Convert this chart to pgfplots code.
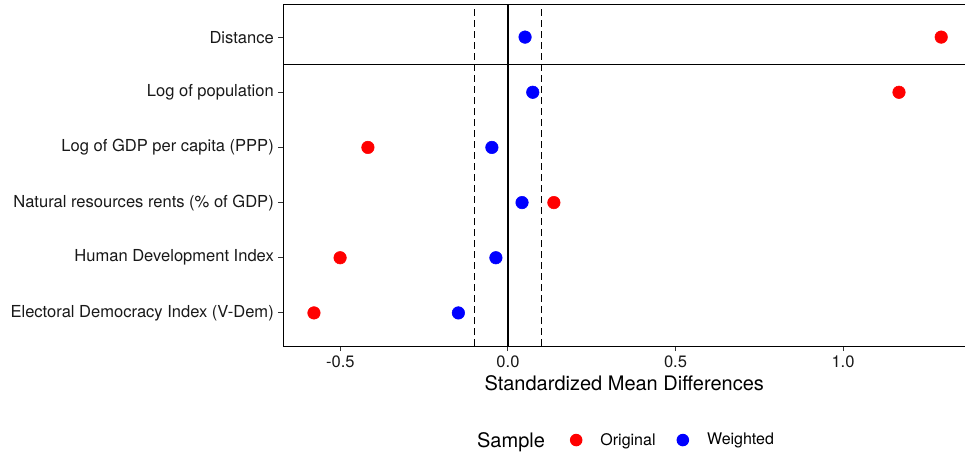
\documentclass[border=0pt]{standalone}
\usepackage{fontspec}
\setmainfont{TeX Gyre Heros}
\usepackage{pgfplots}
\usepackage{pgfplotstable}
\pgfplotsset{compat=1.18}

% Standardized mean differences per covariate (1 = bottom row)
\pgfplotstableread{
pos original weighted
1 -0.579 -0.148
2 -0.501 -0.036
3  0.137  0.042
4 -0.418 -0.048
5  1.167  0.074
6  1.293  0.051
}\smd

\begin{document}
\begin{tikzpicture}
\useasboundingbox (-212.6pt,-82.5pt) rectangle (511.125pt,259.5pt);
\begin{axis}[
  at={(0,0)}, anchor=south west,
  scale only axis,
  width=511.125pt, height=256.5pt,
  xmin=-0.670, xmax=1.364,
  ymin=0.4, ymax=6.6,
  axis lines*=left,
  axis line style={-, line width=0.75pt, black},
  tick align=outside,
  major tick length=3.75pt,
  tick style={line width=0.75pt, black!80},
  xtick={-0.5,0,0.5,1},
  xticklabels={-0.5,0.0,0.5,1.0},
  ytick={1,2,3,4,5,6},
  yticklabels={Electoral Democracy Index (V-Dem),Human Development Index,Natural resources rents (\% of GDP),Log of GDP per capita (PPP),Log of population,Distance},
  /pgf/number format/assume math mode=true,
  ticklabel style={font=\fontsize{12.4}{14}\selectfont, text=black!90},
  xlabel={Standardized Mean Differences},
  xlabel style={font=\fontsize{15}{18}\selectfont, at={(rel axis cs:0.5,0)}, anchor=base, yshift=-33.4pt},
  legend columns=-1,
  legend style={at={(rel axis cs:0.570,-0.275)}, anchor=center, draw=none, fill=none,
    font=\fontsize{12}{14}\selectfont,
    nodes={inner sep=0pt},
    /tikz/every even column/.append style={column sep=15.75pt}},
  legend image code/.code={
    \fill[#1] (0pt,0pt) circle (4.7pt);
    \path[draw=none, fill=none] (-4.7pt,0pt) -- (18.2pt,0pt);
  },
  clip=false,
]
% reference lines
\addplot[forget plot, black, line width=0.95pt] coordinates {(0,0.4) (0,6.6)};
\addplot[forget plot, black, line width=1.15pt, dash pattern=on 5pt off 3.25pt] coordinates {(-0.1,0.4) (-0.1,6.6)};
\addplot[forget plot, black, line width=1.15pt, dash pattern=on 5pt off 3.25pt] coordinates {(0.1,0.4) (0.1,6.6)};
\addplot[forget plot, black, line width=1.1pt] coordinates {(-0.670,5.5) (1.364,5.5)};
\addplot[forget plot, black, line width=0.75pt] coordinates {(-0.670,6.6) (1.364,6.6)};
% samples
\addplot[only marks, mark=*, mark size=4.7pt, draw=none, fill={rgb,255:red,255;green,0;blue,0}, color={rgb,255:red,255;green,0;blue,0}] table[x=original, y=pos] {\smd};
\addlegendentry{Original}
\addplot[only marks, mark=*, mark size=4.7pt, draw=none, fill={rgb,255:red,0;green,0;blue,255}, color={rgb,255:red,0;green,0;blue,255}] table[x=weighted, y=pos] {\smd};
\addlegendentry{Weighted}
\node[anchor=base, font=\fontsize{15}{18}\selectfont, inner sep=0pt] at (rel axis cs:0.334,-0.2953) {Sample};
\end{axis}
\end{tikzpicture}
\end{document}
